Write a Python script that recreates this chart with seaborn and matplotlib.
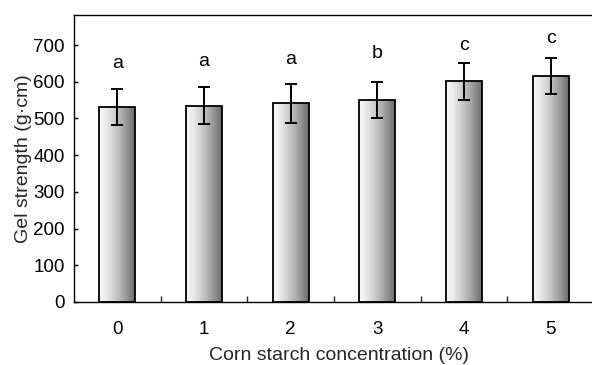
import numpy as np
import pandas as pd
import matplotlib
matplotlib.use("Agg")
import matplotlib.pyplot as plt
import seaborn as sns

# ---- data ----
concentration = ["0", "1", "2", "3", "4", "5"]
gel_strength = [531, 535, 541, 550, 601, 616]
error = [50, 50, 53, 50, 50, 50]
letters = ["a", "a", "a", "b", "c", "c"]
letter_y = [651, 655, 661, 678, 700, 718]
y_ticks = [0, 100, 200, 300, 400, 500, 600, 700]

sns.set_theme(style="white")
plt.rcParams["font.family"] = ["Liberation Sans", "DejaVu Sans"]
FS = 14
TFS = 13.5

fig = plt.figure(figsize=(5.92, 3.65), dpi=100)
W, H = 592, 365
ax = fig.add_axes([74 / W, (H - 302) / H, (594 - 74) / W, (302 - 15) / H])

df = pd.DataFrame({"conc": concentration, "gel": gel_strength})
sns.barplot(data=df, x="conc", y="gel", ax=ax, width=0.415,
            facecolor="none", edgecolor="black", linewidth=1.3,
            errorbar=None, zorder=3)

# gradient fill clipped to each bar
t = np.linspace(0, 1, 256)
grad = (0.97 - 0.55 * t ** 1.4)[None, :]
for p in ax.patches:
    x0, y0 = p.get_x(), p.get_y()
    w, h = p.get_width(), p.get_height()
    im = ax.imshow(grad, cmap="gray", vmin=0, vmax=1, aspect="auto",
                   extent=[x0, x0 + w, y0, y0 + h], zorder=2,
                   interpolation="bilinear")
    im.set_clip_path(p)

ax.errorbar(x=np.arange(len(concentration)), y=gel_strength, yerr=error,
            fmt="none", ecolor="black", elinewidth=1.4, capsize=4,
            capthick=1.4, zorder=4)

for i, (lab, ly) in enumerate(zip(letters, letter_y)):
    ax.text(i, ly, lab, ha="center", va="center", fontsize=FS, color="black")

ax.set_xlim(-0.5, len(concentration) - 0.5)
ax.set_ylim(0, 782)
ax.set_yticks(y_ticks)
ax.set_xticks(np.arange(len(concentration)))
ax.set_xticklabels(concentration)
ax.set_xticks(np.arange(len(concentration) - 1) + 0.5, minor=True)

for s in ["left", "bottom", "top"]:
    ax.spines[s].set_visible(True)
    ax.spines[s].set_color("black")
    ax.spines[s].set_linewidth(1.0)
ax.spines["right"].set_visible(False)

ax.tick_params(axis="y", direction="in", length=3, width=1, left=True,
               labelsize=TFS, pad=6.5, colors="black")
ax.tick_params(axis="x", which="major", length=0, labelsize=TFS, pad=13.5,
               colors="black")
ax.tick_params(axis="x", which="minor", direction="in", length=4, width=1,
               bottom=True)

ax.set_xlabel("Corn starch concentration (%)", fontsize=FS)
ax.set_ylabel("Gel strength (g\u00b7cm)", fontsize=FS)
ax.xaxis.set_label_coords((339 - 74) / 520, -(355 - 302) / 287)
ax.xaxis.label.set_va("center")
ax.yaxis.set_label_coords((24 - 74) / 520, 0.5)
ax.yaxis.label.set_va("center")

fig.savefig("out.png", dpi=100)
